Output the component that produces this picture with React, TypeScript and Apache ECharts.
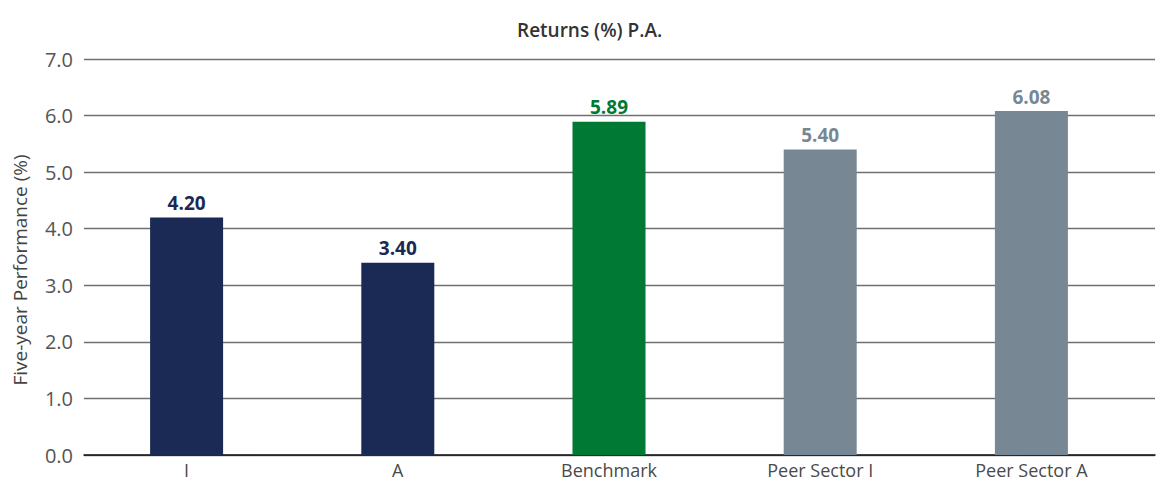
import React, { useEffect, useRef } from "react";
import * as echarts from "echarts";

const categories = ["I", "A", "Benchmark", "Peer Sector I", "Peer Sector A"];
const values = [4.2, 3.4, 5.89, 5.4, 6.08];
const barColors = ["#1a2a55", "#1a2a55", "#007934", "#778793", "#778793"];
const yTicks = { min: 0, max: 7, interval: 1 };

const FONT = "'Open Sans', sans-serif";

export default function App() {
  const ref = useRef<HTMLDivElement>(null);
  useEffect(() => {
    if (!ref.current) return;
    const chart = echarts.init(ref.current, null, { renderer: "svg" });
    chart.setOption({
      animation: false,
      textStyle: { fontFamily: FONT },
      title: {
        text: "Returns (%) P.A.",
        left: 512,
        top: 15,
        textStyle: { fontSize: 19, fontWeight: 600, color: "#333", fontFamily: FONT },
      },
      graphic: [
        {
          type: "text",
          x: 20,
          y: 270,
          rotation: Math.PI / 2,
          style: {
            text: "Five-year Performance (%)",
            fill: "#444",
            font: `19px ${FONT}`,
            align: "center",
            verticalAlign: "middle",
          },
        },
      ],
      grid: [
        { left: 84, right: 1, top: 59, bottom: 29 },
        { left: 81, right: 19, top: 59, bottom: 29 },
      ],
      xAxis: [
        {
          type: "value",
          gridIndex: 0,
          min: 0,
          max: 1,
          axisLine: { show: true, onZero: false, lineStyle: { color: "#111", width: 1.5 } },
          axisTick: { show: false },
          axisLabel: { show: false },
          splitLine: { show: false },
        },
        {
          type: "category",
          gridIndex: 1,
          data: categories,
          axisLine: { show: false },
          axisTick: { show: false },
          axisLabel: { color: "#4a4a4a", fontSize: 18, lineHeight: 18, margin: 6, fontFamily: FONT },
        },
      ],
      yAxis: [
        {
          type: "value",
          gridIndex: 0,
          min: yTicks.min,
          max: yTicks.max,
          interval: yTicks.interval,
          axisLine: { show: false },
          axisTick: { show: false },
          axisLabel: {
            color: "#555",
            fontSize: 20,
            margin: 11,
            fontFamily: FONT,
            formatter: (v: number) => v.toFixed(1),
          },
          splitLine: { lineStyle: { color: "#6f6f6f", width: 1.3 } },
        },
        {
          type: "value",
          gridIndex: 1,
          min: yTicks.min,
          max: yTicks.max,
          interval: yTicks.interval,
          show: false,
          splitLine: { show: false },
        },
      ],
      series: [
        {
          type: "bar",
          xAxisIndex: 1,
          yAxisIndex: 1,
          barWidth: 73,
          data: values.map((v, i) => ({
            value: v,
            itemStyle: { color: barColors[i] },
            label: { color: barColors[i] },
          })),
          label: {
            show: true,
            position: "top",
            distance: 5,
            fontSize: 19,
            fontWeight: "bold",
            fontFamily: FONT,
            formatter: (p: any) => Number(p.value).toFixed(2),
          },
        },
      ],
    });
    return () => chart.dispose();
  }, []);
  return (
    <div
      ref={ref}
      style={{ position: "absolute", left: 0, top: 0, width: 1156, height: 484, background: "#fff" }}
    />
  );
}
